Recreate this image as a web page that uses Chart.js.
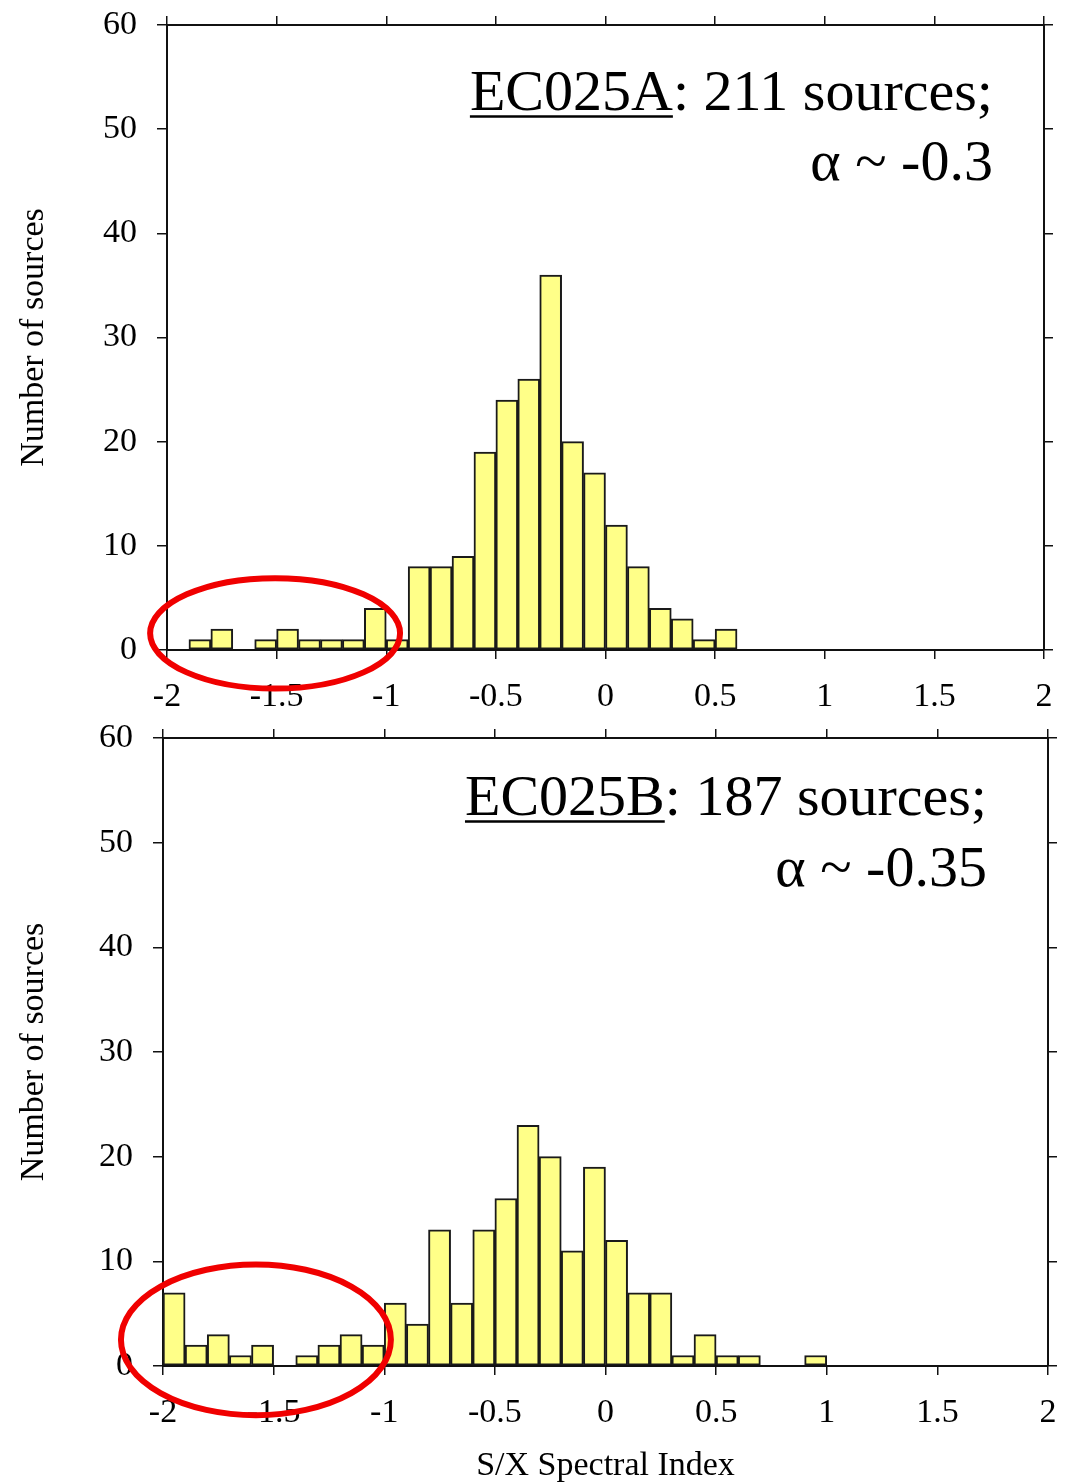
<!DOCTYPE html>
<html>
<head>
<meta charset="utf-8">
<script src="https://cdn.jsdelivr.net/npm/chart.js@4.4.1/dist/chart.umd.min.js"></script>
<style>
  html, body { margin: 0; padding: 0; background: #ffffff; }
  #wrap { position: relative; width: 1066px; height: 1484px; overflow: hidden; }
  .panel { position: absolute; left: 0; width: 1066px; }
  #panelA { top: 0; height: 720px; }
  #panelB { top: 720px; height: 764px; }
  canvas { display: block; }
</style>
</head>
<body>
<div id="wrap">
  <div class="panel" id="panelA"><canvas id="chartA" width="1066" height="720"></canvas></div>
  <div class="panel" id="panelB"><canvas id="chartB" width="1066" height="764"></canvas></div>
</div>
<script>
// Histogram bins (left edges, width 0.1) and source counts per bin
const binWidth = 0.1;

const binLeftA = [-1.9, -1.8, -1.7, -1.6, -1.5, -1.4, -1.3, -1.2, -1.1, -1.0,
                  -0.9, -0.8, -0.7, -0.6, -0.5, -0.4, -0.3, -0.2, -0.1, 0.0,
                   0.1,  0.2,  0.3,  0.4,  0.5];
const countsA  = [1, 2, 0, 1, 2, 1, 1, 1, 4, 1,
                  8, 8, 9, 19, 24, 26, 36, 20, 17, 12,
                  8, 4, 3, 1, 2];

const binLeftB = [-2.0, -1.9, -1.8, -1.7, -1.6, -1.5, -1.4, -1.3, -1.2, -1.1,
                  -1.0, -0.9, -0.8, -0.7, -0.6, -0.5, -0.4, -0.3, -0.2, -0.1,
                   0.0,  0.1,  0.2,  0.3,  0.4,  0.5,  0.6,  0.7,  0.8,  0.9];
const countsB  = [7, 2, 3, 1, 2, 0, 1, 2, 3, 2,
                  6, 4, 13, 6, 13, 16, 23, 20, 11, 19,
                  12, 7, 7, 1, 3, 1, 1, 0, 0, 1];

// Axis ticks
const xTickValues = [-2, -1.5, -1, -0.5, 0, 0.5, 1, 1.5, 2];
const xTickLabels = ['-2', '-1.5', '-1', '-0.5', '0', '0.5', '1', '1.5', '2'];
const yTickValues = [0, 10, 20, 30, 40, 50, 60];
const yTickLabels = ['0', '10', '20', '30', '40', '50', '60'];

// Panel captions
const sessionNames  = ['EC025A', 'EC025B'];
const sourceTotals  = [211, 187];
const alphaValues   = ['-0.3', '-0.35'];

const yTitle = 'Number of sources';
const xTitle = 'S/X Spectral Index';

const SERIF = "'Liberation Serif', 'DejaVu Serif', serif";

// Panel layout (pixel boxes of the plot frame inside each canvas) and
// overlay placement in data units
const panelLayout = [
  { canvas: 'chartA', w: 1066, h: 720, left: 167, right: 1044, top: 25, bottom: 650,
    showXTitle: false,
    caption: { x: 1.767, y1: 51.8, y2: 45.1 },
    ring: { x: -1.507, y: 1.6, rx: 0.57, ry: 5.3 } },
  { canvas: 'chartB', w: 1066, h: 764, left: 163, right: 1048, top: 18, bottom: 646,
    showXTitle: true,
    caption: { x: 1.724, y1: 52.6, y2: 45.9 },
    ring: { x: -1.58, y: 2.5, rx: 0.61, ry: 7.2 } }
];

function lookupLabel(values, labels, v) {
  const i = values.findIndex(t => Math.abs(t - v) < 1e-9);
  return i >= 0 ? labels[i] : '';
}

// Caption text and highlight ring drawn over the plot
const overlayPlugin = {
  id: 'overlay',
  afterDraw(chart, args, opts) {
    const { ctx, scales } = chart;
    const xs = scales.x, ys = scales.y;
    const cap = opts.caption, ring = opts.ring;
    ctx.save();

    // caption
    ctx.font = '58px ' + SERIF;
    ctx.fillStyle = '#000';
    ctx.textBaseline = 'alphabetic';
    const rightX = xs.getPixelForValue(cap.x);
    const line1Y = ys.getPixelForValue(cap.y1);
    const line2Y = ys.getPixelForValue(cap.y2);
    const namePart = opts.name;
    const restPart = ': ' + opts.total + ' sources;';
    const wRest = ctx.measureText(restPart).width;
    const wName = ctx.measureText(namePart).width;
    const startX = rightX - wRest - wName;
    ctx.textAlign = 'left';
    ctx.fillText(namePart, startX, line1Y);
    ctx.fillText(restPart, startX + wName, line1Y);
    ctx.strokeStyle = '#000';
    ctx.lineWidth = 2.5;
    ctx.beginPath();
    ctx.moveTo(startX, line1Y + 6);
    ctx.lineTo(startX + wName, line1Y + 6);
    ctx.stroke();
    ctx.textAlign = 'right';
    ctx.fillText('\u03b1 ~ ' + opts.alpha, rightX, line2Y);

    // highlight ring around the steep-spectrum tail
    const cx = xs.getPixelForValue(ring.x);
    const cy = ys.getPixelForValue(ring.y);
    const rx = Math.abs(xs.getPixelForValue(ring.x + ring.rx) - cx);
    const ry = Math.abs(ys.getPixelForValue(ring.y + ring.ry) - cy);
    ctx.strokeStyle = '#f00000';
    ctx.lineWidth = 6;
    ctx.beginPath();
    ctx.ellipse(cx, cy, rx, ry, 0, 0, Math.PI * 2);
    ctx.stroke();
    ctx.restore();
  }
};

function tickGrid(len) {
  return { drawOnChartArea: false, drawTicks: true, tickLength: len, color: '#111', lineWidth: 1.5, offset: false };
}
function frameBorder() {
  return { display: true, color: '#111', width: 2 };
}
// fixed frame: ignore label overhang so the plot box sits where the layout says
function fixHoriz(h) {
  return s => { s.height = h; s.paddingLeft = 0; s.paddingRight = 0; };
}
function fixVert(w) {
  return s => { s.width = w; s.paddingTop = 0; s.paddingBottom = 0; };
}

function buildPanel(idx, binLeft, counts) {
  const L = panelLayout[idx];
  const points = binLeft.map((edge, i) => ({ x: edge + binWidth / 2, y: counts[i] === 0 ? null : counts[i] }));

  return new Chart(document.getElementById(L.canvas), {
    type: 'bar',
    data: {
      datasets: [{
        data: points,
        backgroundColor: '#ffff88',
        borderColor: '#1a1a1a',
        borderWidth: 2,
        borderSkipped: false,
        barPercentage: 1.0,
        categoryPercentage: 1.0,
        xAxisID: 'x',
        yAxisID: 'y'
      }]
    },
    options: {
      responsive: false,
      animation: false,
      events: [],
      layout: { padding: 0 },
      plugins: {
        legend: { display: false },
        tooltip: { enabled: false },
        overlay: {
          caption: L.caption, ring: L.ring,
          name: sessionNames[idx], total: sourceTotals[idx], alpha: alphaValues[idx]
        }
      },
      scales: {
        x: {
          type: 'linear', position: 'bottom', min: -2, max: 2, offset: false,
          afterBuildTicks: s => { s.ticks = xTickValues.map(v => ({ value: v })); },
          afterFit: fixHoriz(L.h - L.bottom),
          ticks: {
            color: '#000', padding: 18, maxRotation: 0, autoSkip: false,
            font: { family: SERIF, size: 34 },
            callback: v => lookupLabel(xTickValues, xTickLabels, v)
          },
          grid: tickGrid(9),
          border: frameBorder(),
          title: {
            display: L.showXTitle, text: xTitle, color: '#000',
            font: { family: SERIF, size: 34 }, padding: { top: 0, bottom: -2 }
          }
        },
        xTop: {
          type: 'linear', position: 'top', min: -2, max: 2, offset: false,
          afterBuildTicks: s => { s.ticks = xTickValues.map(v => ({ value: v })); },
          afterFit: fixHoriz(L.top),
          ticks: { display: false },
          grid: tickGrid(9),
          border: frameBorder()
        },
        y: {
          type: 'linear', position: 'left', min: 0, max: 60,
          afterBuildTicks: s => { s.ticks = yTickValues.map(v => ({ value: v })); },
          afterFit: fixVert(L.left),
          ticks: {
            color: '#000', padding: 20,
            font: { family: SERIF, size: 34 },
            callback: v => lookupLabel(yTickValues, yTickLabels, v)
          },
          grid: tickGrid(10),
          border: frameBorder(),
          title: {
            display: true, text: yTitle, color: '#000',
            font: { family: SERIF, size: 34 }, padding: { top: 14, bottom: 0 }
          }
        },
        yRight: {
          type: 'linear', position: 'right', min: 0, max: 60,
          afterBuildTicks: s => { s.ticks = yTickValues.map(v => ({ value: v })); },
          afterFit: fixVert(L.w - L.right),
          ticks: { display: false },
          grid: tickGrid(9),
          border: frameBorder()
        }
      }
    },
    plugins: [overlayPlugin]
  });
}

buildPanel(0, binLeftA, countsA);
buildPanel(1, binLeftB, countsB);
</script>
</body>
</html>
